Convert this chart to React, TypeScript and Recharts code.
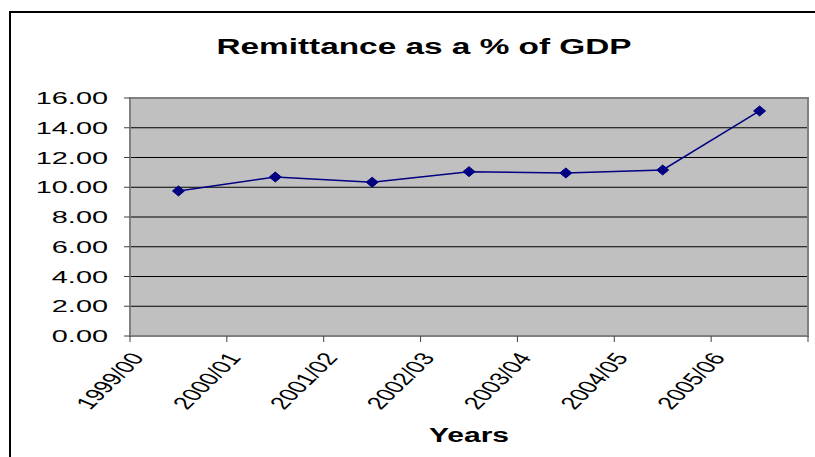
import React from "react";
import {
  LineChart,
  Line,
  XAxis,
  YAxis,
  CartesianGrid,
  ReferenceArea,
} from "recharts";

const years = ["1999/00", "2000/01", "2001/02", "2002/03", "2003/04", "2004/05", "2005/06"];
const remittance = [9.75, 10.69, 10.34, 11.05, 10.96, 11.16, 15.13];
const yTicks = [0, 2, 4, 6, 8, 10, 12, 14, 16];

const W = 815;
const H = 457;
const PLOT = { left: 130, top: 98, right: 7, bottom: 121 };
const FONT = "'Liberation Sans', Arial, sans-serif";
// the source picture is stretched sideways, so text gets a horizontal scale
const STRETCH = 1.55;

const data = years.map((year, i) => ({ year, value: remittance[i] }));

function XTick({ x, y, payload, index }: any) {
  const bw = (W - PLOT.left - PLOT.right) / years.length;
  const half = payload?.offset ? payload.offset : bw / 2;
  const bx = x - half;
  return (
    <g>
      <line x1={bx} y1={y} x2={bx} y2={y + 6} stroke="#404040" />
      {index === years.length - 1 && (
        <line x1={x + half} y1={y} x2={x + half} y2={y + 6} stroke="#404040" />
      )}
      <text
        transform={`translate(${bx + 15},${y + 22}) scale(${STRETCH},1) rotate(-56)`}
        textAnchor="end"
        fontSize={17.5}
        fontFamily={FONT}
        fill="#000"
      >
        {payload.value}
      </text>
    </g>
  );
}

function YTick({ x, y, payload }: any) {
  return (
    <text
      transform={`translate(${x - 14},${y + 6}) scale(1.7,1)`}
      textAnchor="end"
      fontSize={17}
      fontFamily={FONT}
      fill="#000"
    >
      {Number(payload.value).toFixed(2)}
    </text>
  );
}

function Diamond({ cx, cy, index }: any) {
  return (
    <polygon
      key={`d-${index}`}
      points={`${cx},${cy - 5} ${cx + 6},${cy} ${cx},${cy + 5} ${cx - 6},${cy}`}
      fill="#000080"
      stroke="#000080"
    />
  );
}

export default function App() {
  return (
    <div
      style={{
        position: "absolute",
        left: 0,
        top: 0,
        width: W,
        height: H,
        overflow: "hidden",
        background: "#fff",
      }}
    >
      {/* outer chart frame, runs past the right and bottom edges */}
      <div
        style={{
          position: "absolute",
          left: 9,
          top: 11,
          width: 900,
          height: 500,
          border: "2px solid #000",
        }}
      />
      <div style={{ position: "absolute", left: 0, top: 0 }}>
        <LineChart
          width={W}
          height={H}
          data={data}
          margin={{ top: PLOT.top, right: PLOT.right, bottom: 0, left: 0 }}
        >
          <CartesianGrid vertical={false} stroke="#000" fill="#C0C0C0" />
          <ReferenceArea y1={0} y2={16} fill="none" stroke="#808080" strokeWidth={2} />
          <XAxis
            dataKey="year"
            scale="band"
            height={PLOT.bottom}
            tickSize={0}
            tickMargin={0}
            tickLine={false}
            axisLine={{ stroke: "#808080", strokeWidth: 2 }}
            interval={0}
            tick={<XTick />}
          />
          <YAxis
            width={PLOT.left}
            domain={[0, 16]}
            ticks={yTicks}
            interval={0}
            axisLine={{ stroke: "#808080", strokeWidth: 2 }}
            tickLine={{ stroke: "#404040" }}
            tick={<YTick />}
          />
          <Line
            type="linear"
            dataKey="value"
            stroke="#000080"
            strokeWidth={1.5}
            dot={<Diamond />}
            activeDot={false}
            isAnimationActive={false}
          />
        </LineChart>
      </div>
      <svg
        width={W}
        height={H}
        style={{ position: "absolute", left: 0, top: 0, pointerEvents: "none" }}
      >
        <text
          transform="translate(424,54) scale(1.56,1)"
          textAnchor="middle"
          fontSize={21.4}
          fontWeight="bold"
          fontFamily={FONT}
          fill="#000"
        >
          Remittance as a % of GDP
        </text>
        <text
          transform="translate(469,442) scale(1.54,1)"
          textAnchor="middle"
          fontSize={19.5}
          fontWeight="bold"
          fontFamily={FONT}
          fill="#000"
        >
          Years
        </text>
      </svg>
    </div>
  );
}
